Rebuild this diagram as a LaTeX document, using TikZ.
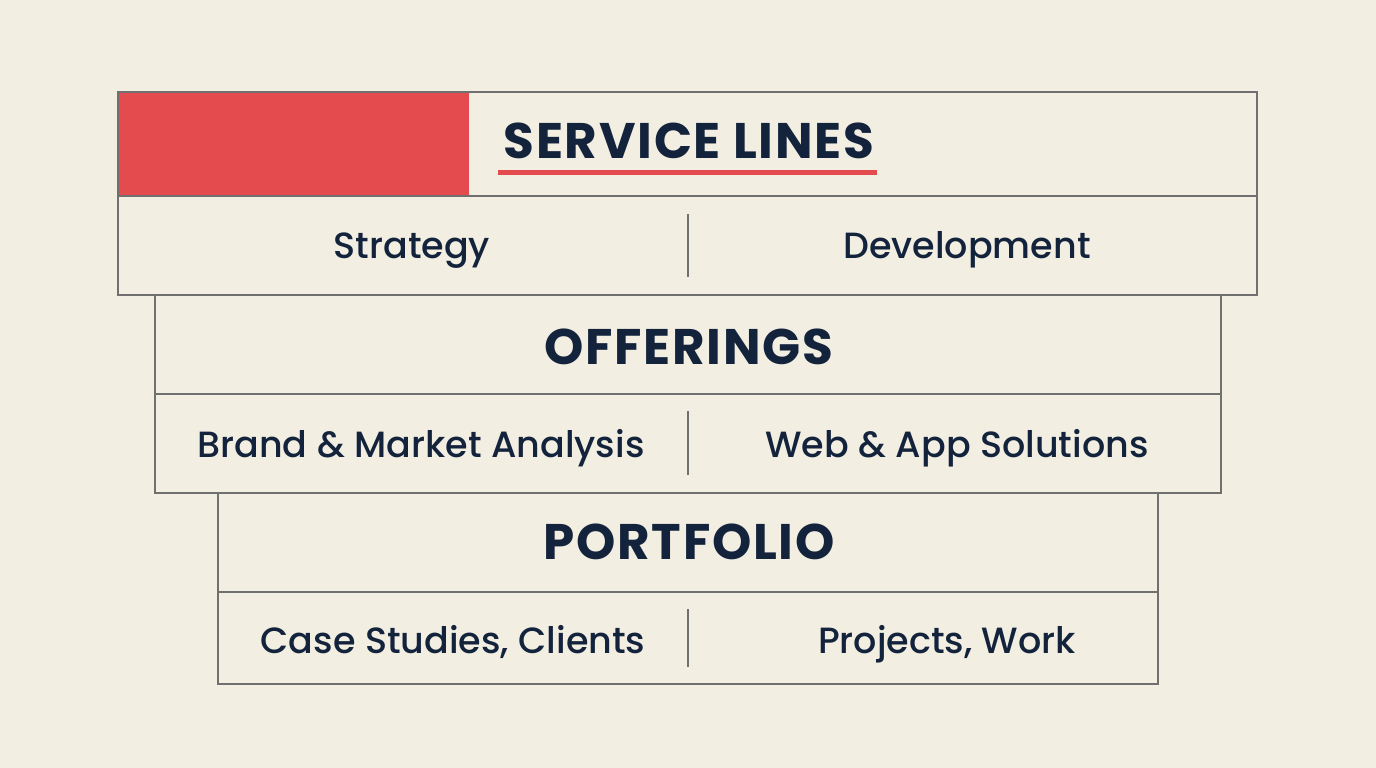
\documentclass[tikz,border=0pt]{standalone}
\usepackage{fontspec}
\setmainfont{Poppins}
\IfFontExistsTF{Poppins Medium}
  {\newfontfamily\itemfont{Poppins Medium}}
  {\newfontfamily\itemfont{Poppins}}
\newfontfamily\titlefont{Poppins}[LetterSpace=3.5]
\definecolor{paper}{HTML}{F2EEE2}
\definecolor{accent}{HTML}{E44B4F}
\definecolor{ink}{HTML}{14233C}
\definecolor{rule}{HTML}{707070}
\tikzset{
  band/.style={draw=rule, line width=1.1pt},
  divider/.style={draw=rule, line width=1.1pt},
  title/.style={text=ink, anchor=base, inner sep=0pt,
    font=\titlefont\fontsize{50}{56}\selectfont\bfseries},
  item/.style={text=ink, anchor=base, inner sep=0pt,
    font=\itemfont\fontsize{36.5}{42}\selectfont}
}
\begin{document}
\begin{tikzpicture}[x=1pt, y=-1pt]
    \fill[paper] (0,0) rectangle (1376,768);
    \useasboundingbox (0,0) rectangle (1376,768);
    % service lines
    \begin{scope}
      \fill[accent] (118,92) rectangle (469,196);
      \draw[band] (118,92) rectangle (1257,196);
      \draw[band] (118,196) rectangle (1257,295);
      \node[title] (svc) at (689,158) {SERVICE LINES};
      \draw[accent, line width=5pt] (498,172.5) coordinate (ul) -- (877,172.5);
      \draw[divider] (688,214) -- (688,277);
      \node[item] (strat) at (412,258) {Strategy};
      \node[item] (dev) at (967,258) {Development};
    \end{scope}
    % offerings
    \begin{scope}
      \draw[band] (155,295) rectangle (1221,394);
      \draw[band] (155,394) rectangle (1221,493);
      \node[title] (off) at (689,364) {OFFERINGS};
      \draw[divider] (688,411) -- (688,475);
      \node[item] (brand) at (421,457) {Brand \& Market Analysis};
      \node[item] (web) at (957,457) {Web \& App Solutions};
    \end{scope}
    % portfolio
    \begin{scope}
      \draw[band] (218,493) rectangle (1158,592);
      \draw[band] (218,592) rectangle (1158,684);
      \node[title] (port) at (689,559) {PORTFOLIO};
      \draw[divider] (688,609) -- (688,667);
      \node[item] (cases) at (453,653) {Case Studies, Clients};
      \node[item] (proj) at (947,653) {Projects, Work};
    \end{scope}
  \end{tikzpicture}
\end{document}
